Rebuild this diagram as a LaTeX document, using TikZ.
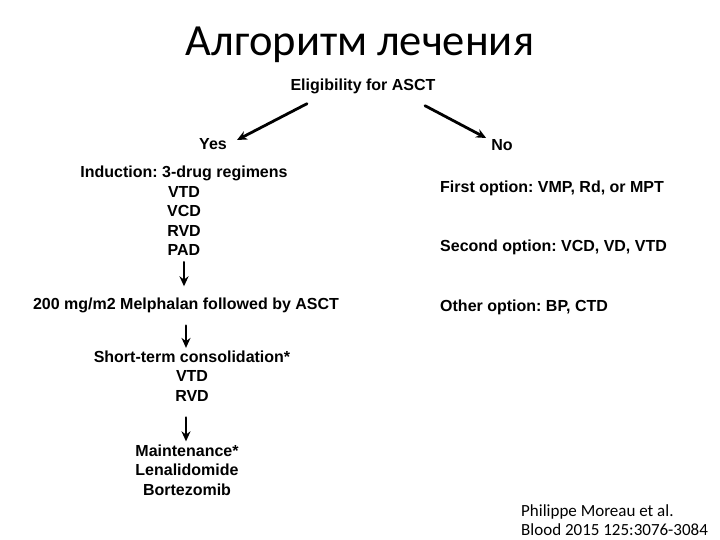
\documentclass[tikz,border=0pt]{standalone}
\usepackage{fontspec}
\setmainfont{Liberation Sans}
\newfontfamily\calibri{Carlito}
\usetikzlibrary{arrows.meta}
\tikzset{every picture/.style={line cap=round, line join=round}}
\tikzset{item/.style={font=\fontsize{16}{19.6}\selectfont\bfseries\frenchspacing,
  inner sep=0pt, align=center}}
\tikzset{opt/.style={item, anchor=west}}
\tikzset{arrow/.style={-{Stealth[length=10pt,width=9pt]}, line width=2.8pt}}
\tikzset{down/.style={arrow, shorten <=6pt, shorten >=11pt}}

\begin{document}
\begin{tikzpicture}[x=1pt,y=-1pt]
  \useasboundingbox (0,0) rectangle (720,540);
  % Title
  \node[font=\calibri\fontsize{44.5}{50}\selectfont] (title) at (360,45) {Алгоритм лечения};

  % Root
  \node[item] (elig) at (363,86) {Eligibility for ASCT};

  % Yes branch
  \node[item] (yes) at (213,144) {Yes};
  \node[item] (induct) at (184,211) {Induction: 3-drug regimens\\VTD\\VCD\\RVD\\PAD};
  \node[item] (melph) at (186,305) {200 mg/m2 Melphalan followed by ASCT};
  \node[item] (consol) at (192,376) {Short-term consolidation*\\VTD\\RVD};
  \node[item] (maint) at (187,470) {Maintenance*\\Lenalidomide\\Bortezomib};
  \draw[arrow] ([xshift=-56pt,yshift=-10pt]elig.south) -- ([xshift=10pt,yshift=4pt]yes.east);
  \draw[down] (induct.south) -- (induct.south |- melph.north);
  \draw[down, shorten <=13pt, shorten >=2.5pt] (melph.south) -- (melph.south |- consol.north);
  \draw[down, shorten <=16pt, shorten >=3pt] (consol.south -| melph.south) -- (maint.north -| melph.south);

  % No branch
  \node[item] (no) at (502,145) {No};
  \node[opt] (first) at (440,188) {First option: VMP, Rd, or MPT};
  \node[opt] (second) at (440,247) {Second option: VCD, VD, VTD};
  \node[opt] (other) at (440,307) {Other option: BP, CTD};
  \draw[arrow] ([xshift=62pt,yshift=-12pt]elig.south) -- ([xshift=-5pt,yshift=7pt]no.west);

  % Reference
  \node[font=\calibri\fontsize{17}{19}\selectfont, align=left, anchor=west,
    inner sep=0pt] (cite) at (521,520) {Philippe Moreau et al.\\Blood 2015 125:3076-3084};
\end{tikzpicture}
\end{document}
